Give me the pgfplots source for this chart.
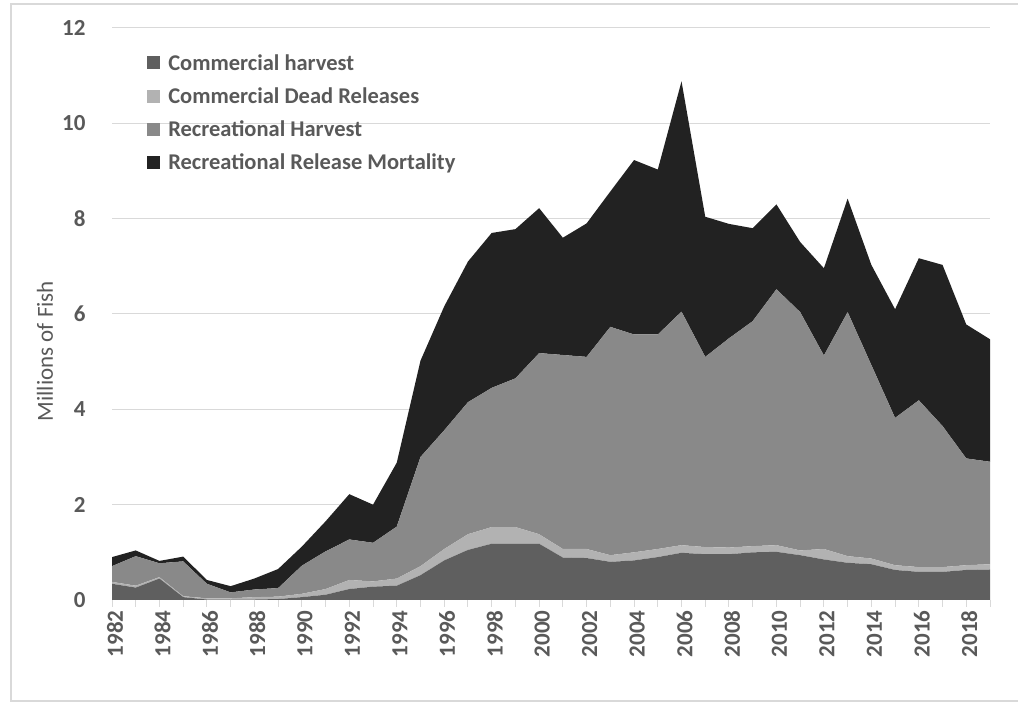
\documentclass[border=0pt]{standalone}
\usepackage{fontspec}
\setmainfont{Carlito}
\usepackage{pgfplots}
\usepackage{pgfplotstable}
\pgfplotsset{compat=1.18}
\definecolor{chc}{HTML}{5F5F5F}
\definecolor{cdrc}{HTML}{B2B2B2}
\definecolor{rhc}{HTML}{898989}
\definecolor{rrmc}{HTML}{222222}
\definecolor{txt}{HTML}{595959}
\definecolor{gridc}{HTML}{D9D9D9}
\definecolor{framec}{HTML}{D9D9D9}

\pgfplotstableread{
year ch cdr rh rrm
1982 0.34 0.04 0.33 0.19
1983 0.26 0.04 0.62 0.12
1984 0.45 0.03 0.29 0.05
1985 0.06 0.02 0.73 0.10
1986 0.01 0.025 0.305 0.08
1987 0.005 0.03 0.125 0.13
1988 0.01 0.05 0.16 0.23
1989 0.02 0.05 0.18 0.40
1990 0.06 0.07 0.59 0.40
1991 0.11 0.12 0.79 0.63
1992 0.23 0.19 0.85 0.95
1993 0.28 0.11 0.81 0.80
1994 0.30 0.15 1.09 1.34
1995 0.52 0.19 2.29 2.02
1996 0.83 0.24 2.49 2.60
1997 1.05 0.33 2.77 2.95
1998 1.18 0.35 2.92 3.25
1999 1.18 0.35 3.12 3.13
2000 1.18 0.20 3.80 3.04
2001 0.89 0.18 4.07 2.46
2002 0.88 0.19 4.03 2.80
2003 0.80 0.14 4.79 2.84
2004 0.83 0.17 4.57 3.66
2005 0.90 0.17 4.50 3.46
2006 0.99 0.16 4.90 4.83
2007 0.96 0.15 3.99 2.94
2008 0.96 0.14 4.39 2.40
2009 1.00 0.13 4.72 1.95
2010 1.01 0.14 5.37 1.78
2011 0.94 0.10 5.00 1.47
2012 0.85 0.22 4.06 1.83
2013 0.78 0.14 5.12 2.38
2014 0.75 0.12 4.06 2.10
2015 0.63 0.10 3.09 2.28
2016 0.59 0.10 3.50 2.98
2017 0.59 0.10 2.96 3.38
2018 0.63 0.10 2.24 2.81
2019 0.64 0.11 2.15 2.57
}\datatable

\begin{document}
\begin{tikzpicture}
\useasboundingbox (0pt,0pt) rectangle (1018pt,704pt);
\draw[framec, line width=1.5pt] (1020pt,700pt) -- (11pt,700pt) -- (11pt,3pt) -- (1020pt,3pt);
\begin{axis}[
  at={(112pt,104pt)}, anchor=south west,
  scale only axis, width=878pt, height=572pt,
  xmin=1982, xmax=2019, ymin=0, ymax=12,
  stack plots=y,
  xtick={1982,1984,...,2018},
  minor xtick={1983,1985,...,2019},
  ytick={0,2,...,12},
  /pgf/number format/1000 sep={},
  /pgf/number format/assume math mode=true,
  axis x line*=bottom, axis y line*=left,
  x axis line style={draw=gridc, line width=1pt, -},
  y axis line style={draw=none},
  ymajorgrids, grid style={draw=gridc, line width=1pt},
  tick align=outside,
  major tick length=7pt, minor tick length=7pt,
  xtick style={draw=gridc, line width=1pt},
  minor x tick style={draw=gridc, line width=1pt},
  ytick style={draw=none},
  xticklabel style={rotate=90, anchor=east, font=\fontsize{23}{26}\selectfont\bfseries, text=txt, yshift=-3pt},
  yticklabel style={font=\fontsize{23}{26}\selectfont\bfseries, text=txt, xshift=-16pt},
  ylabel={Millions of Fish},
  every axis y label/.style={at={(axis description cs:-0.0763,0.435)}, rotate=90, anchor=center, font=\fontsize{23}{26}\selectfont, text=txt},
  legend style={at={(axis description cs:0.04,0.958)}, anchor=north west, draw=none, fill=none,
     font=\fontsize{22.5}{26}\selectfont\bfseries, text=txt, row sep=12pt, inner sep=0pt,
     /tikz/every odd column/.append style={column sep=6pt}},
  legend cell align=left,
  clip=false,
  axis on top=false,
]
\addplot[fill=chc, draw=none, legend image code/.code={\fill[chc] (0pt,-6.5pt) rectangle (13pt,6.5pt);}] table[x=year,y=ch] {\datatable} \closedcycle;
\addlegendentry{Commercial harvest}
\addplot[fill=cdrc, draw=none, legend image code/.code={\fill[cdrc] (0pt,-6.5pt) rectangle (13pt,6.5pt);}] table[x=year,y=cdr] {\datatable} \closedcycle;
\addlegendentry{Commercial Dead Releases}
\addplot[fill=rhc, draw=none, legend image code/.code={\fill[rhc] (0pt,-6.5pt) rectangle (13pt,6.5pt);}] table[x=year,y=rh] {\datatable} \closedcycle;
\addlegendentry{Recreational Harvest}
\addplot[fill=rrmc, draw=none, legend image code/.code={\fill[rrmc] (0pt,-6.5pt) rectangle (13pt,6.5pt);}] table[x=year,y=rrm] {\datatable} \closedcycle;
\addlegendentry{Recreational Release Mortality}
\end{axis}
\end{tikzpicture}
\end{document}
